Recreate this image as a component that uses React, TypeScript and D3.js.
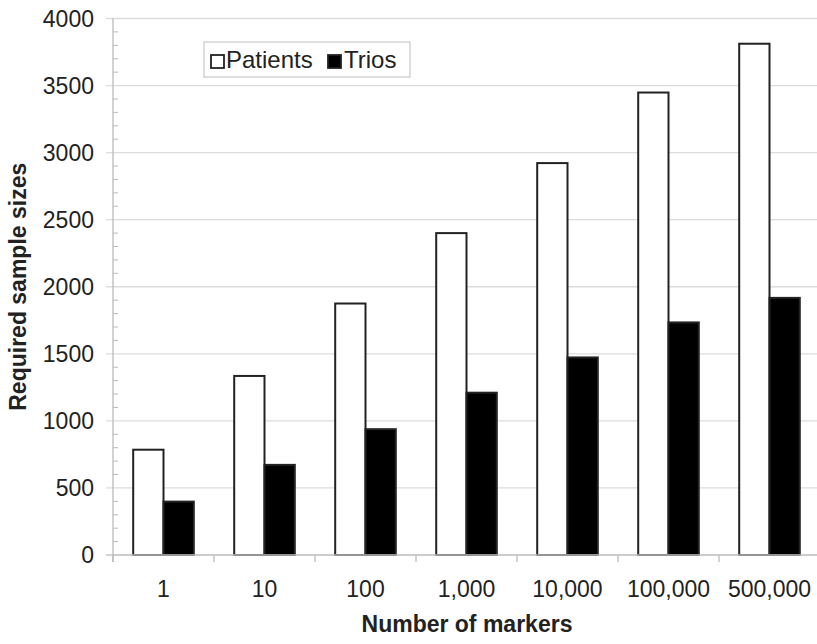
import { useEffect, useRef } from "react";
import * as d3 from "d3";

const categories = ["1", "10", "100", "1,000", "10,000", "100,000", "500,000"];
const seriesNames = ["Patients", "Trios"];
const patients = [785, 1335, 1875, 2400, 2922, 3448, 3812];
const trios = [398, 672, 938, 1210, 1473, 1734, 1917];
const yTicks = [0, 500, 1000, 1500, 2000, 2500, 3000, 3500, 4000];

const W = 817;
const H = 644;
const FONT = "'Liberation Sans', Arial, sans-serif";

export default function App() {
  const svgRef = useRef<SVGSVGElement>(null);

  useEffect(() => {
    if (!svgRef.current) return;
    const svg = d3.select(svgRef.current);
    svg.selectAll("*").remove();

    const left = 113;
    const right = 820;
    const top = 18.5;
    const bottom = 555;

    const y = d3.scaleLinear().domain([0, 4000]).range([bottom, top]);
    const x0 = d3.scaleBand<string>().domain(categories).range([left, right]).padding(0);
    const bw = x0.bandwidth();
    const x1 = d3.scaleBand<string>().domain(seriesNames).range([bw * 0.2, bw * 0.8]).padding(0);

    const g = svg.append("g");

    // grid lines
    g.selectAll(".grid")
      .data(yTicks.filter((d) => d > 0))
      .enter()
      .append("line")
      .attr("x1", left - 7)
      .attr("x2", right)
      .attr("y1", (d) => y(d))
      .attr("y2", (d) => y(d))
      .attr("stroke", "#dcdcdc")
      .attr("stroke-width", 1.3);

    // minor ticks inside
    const minor = d3.range(100, 4000, 100).filter((d) => d % 500 !== 0);
    g.selectAll(".minor")
      .data(minor)
      .enter()
      .append("line")
      .attr("x1", left)
      .attr("x2", left + 5)
      .attr("y1", (d) => y(d))
      .attr("y2", (d) => y(d))
      .attr("stroke", "#bbb")
      .attr("stroke-width", 1);

    // y axis line
    g.append("line")
      .attr("x1", left)
      .attr("x2", left)
      .attr("y1", top)
      .attr("y2", bottom + 7)
      .attr("stroke", "#bbb")
      .attr("stroke-width", 1.3);

    g.append("line")
      .attr("x1", left - 7)
      .attr("x2", left)
      .attr("y1", bottom)
      .attr("y2", bottom)
      .attr("stroke", "#bbb")
      .attr("stroke-width", 1.3);

    // y tick labels
    g.selectAll(".ylab")
      .data(yTicks)
      .enter()
      .append("text")
      .attr("x", 94)
      .attr("y", (d) => y(d))
      .attr("dy", "0.36em")
      .attr("text-anchor", "end")
      .style("font-family", FONT)
      .style("font-size", "23px")
      .style("fill", "#222")
      .text((d) => String(d));

    // x category ticks
    const bounds = categories.map((c) => x0(c)!).concat([right]);
    g.selectAll(".xtick")
      .data(bounds)
      .enter()
      .append("line")
      .attr("x1", (d) => d)
      .attr("x2", (d) => d)
      .attr("y1", bottom)
      .attr("y2", bottom + 7)
      .attr("stroke", "#bbb")
      .attr("stroke-width", 1.3);

    // bars
    const rows = categories.map((c, i) => ({ c, vals: [patients[i], trios[i]] }));
    const grp = g
      .selectAll(".grp")
      .data(rows)
      .enter()
      .append("g")
      .attr("transform", (d) => `translate(${x0(d.c)},0)`);

    grp
      .selectAll("rect")
      .data((d) => d.vals.map((v, k) => ({ v, s: seriesNames[k] })))
      .enter()
      .append("rect")
      .attr("x", (d) => x1(d.s)!)
      .attr("width", x1.bandwidth())
      .attr("y", (d) => y(d.v))
      .attr("height", (d) => bottom - y(d.v))
      .attr("fill", (d) => (d.s === "Patients" ? "#fff" : "#000"))
      .attr("stroke", "#222")
      .attr("stroke-width", 2);

    // baseline
    g.append("line")
      .attr("x1", left)
      .attr("x2", right)
      .attr("y1", bottom)
      .attr("y2", bottom)
      .attr("stroke", "#bbb")
      .attr("stroke-width", 1.3);

    // category labels
    g.selectAll(".xlab")
      .data(categories)
      .enter()
      .append("text")
      .attr("x", (d) => x0(d)! + bw / 2)
      .attr("y", 597)
      .attr("text-anchor", "middle")
      .style("font-family", FONT)
      .style("font-size", "23px")
      .style("fill", "#222")
      .text((d) => d);

    // axis titles
    g.append("text")
      .attr("x", 467)
      .attr("y", 632)
      .attr("text-anchor", "middle")
      .style("font-family", FONT)
      .style("font-size", "23px")
      .style("font-weight", "bold")
      .style("fill", "#222")
      .text("Number of markers");

    g.append("text")
      .attr("transform", `translate(26,${(top + bottom) / 2}) rotate(-90)`)
      .attr("text-anchor", "middle")
      .style("font-family", FONT)
      .style("font-size", "23px")
      .style("font-weight", "bold")
      .style("fill", "#222")
      .text("Required sample sizes");

    // legend
    const lg = g.append("g");
    lg.append("rect")
      .attr("x", 204)
      .attr("y", 42)
      .attr("width", 206)
      .attr("height", 35)
      .attr("fill", "#fff")
      .attr("stroke", "#ccc")
      .attr("stroke-width", 1.3);
    const items = [
      { s: "Patients", sx: 211, tx: 226, fill: "#fff" },
      { s: "Trios", sx: 328, tx: 344, fill: "#000" },
    ];
    items.forEach((it) => {
      lg.append("rect")
        .attr("x", it.sx)
        .attr("y", 55)
        .attr("width", 13)
        .attr("height", 13)
        .attr("fill", it.fill)
        .attr("stroke", "#222")
        .attr("stroke-width", 1.8);
      lg.append("text")
        .attr("x", it.tx)
        .attr("y", 68)
        .style("font-family", FONT)
        .style("font-size", "24px")
        .style("fill", "#222")
        .text(it.s);
    });
  }, []);

  return (
    <svg
      ref={svgRef}
      width={W}
      height={H}
      style={{ position: "absolute", left: 0, top: 0, background: "#fff", display: "block" }}
    />
  );
}
